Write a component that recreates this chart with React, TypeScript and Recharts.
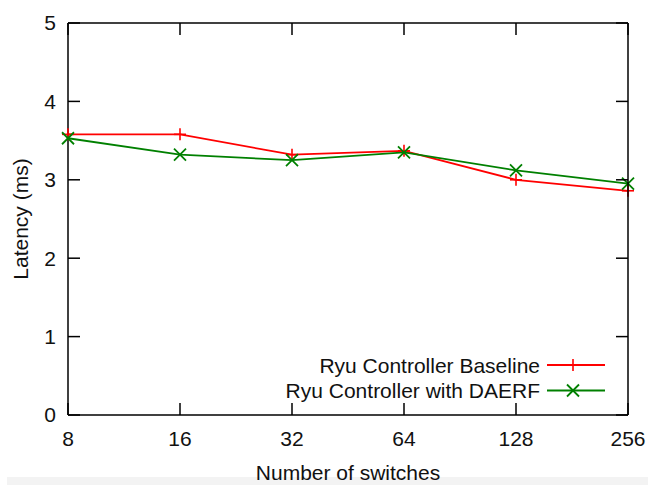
import React from 'react';
import { LineChart, Line, XAxis, YAxis, Legend } from 'recharts';

const switches = [8, 16, 32, 64, 128, 256];
const baseline = [3.58, 3.58, 3.32, 3.37, 3.0, 2.86];
const daerf = [3.53, 3.32, 3.25, 3.35, 3.12, 2.95];
const yTicks = [0, 1, 2, 3, 4, 5];

const seriesNames = ['Ryu Controller Baseline', 'Ryu Controller with DAERF'];
const RED = '#ff0000';
const GREEN = '#008000';
const FONT = '"Liberation Sans", Arial, sans-serif';
const TEXT = '#111';

const data = switches.map((n, i) => ({ n: String(n), baseline: baseline[i], daerf: daerf[i] }));

// layout
const W = 648;
const H = 485;
const MARGIN = { top: 23, right: 20, bottom: 0, left: 8 };
const Y_AXIS_W = 60;
const X_AXIS_H = 70;
const PLOT_TOP = MARGIN.top;
const PLOT_RIGHT = W - MARGIN.right;
const PLOT_BOTTOM = H - MARGIN.bottom - X_AXIS_H;
const TICK = 12;

const PlusDot = (props: any) => {
  const { cx, cy } = props;
  if (cx == null || cy == null) return null;
  const s = 6;
  return (
    <g>
      <line x1={cx - s} y1={cy} x2={cx + s} y2={cy} stroke={RED} strokeWidth={1.6} />
      <line x1={cx} y1={cy - s} x2={cx} y2={cy + s} stroke={RED} strokeWidth={1.6} />
    </g>
  );
};

const CrossDot = (props: any) => {
  const { cx, cy } = props;
  if (cx == null || cy == null) return null;
  const s = 6;
  return (
    <g>
      <line x1={cx - s} y1={cy - s} x2={cx + s} y2={cy + s} stroke={GREEN} strokeWidth={1.8} />
      <line x1={cx - s} y1={cy + s} x2={cx + s} y2={cy - s} stroke={GREEN} strokeWidth={1.8} />
    </g>
  );
};

const LegendContent = () => (
  <svg width={350} height={55} style={{ display: 'block' }}>
    <text x={270} y={15} textAnchor="end" dominantBaseline="central" fontSize={21} fontFamily={FONT} fill={TEXT}>
      {seriesNames[0]}
    </text>
    <line x1={277} y1={15} x2={335} y2={15} stroke={RED} strokeWidth={1.8} />
    <PlusDot cx={303} cy={15} />
    <text x={270} y={40.5} textAnchor="end" dominantBaseline="central" fontSize={21} fontFamily={FONT} fill={TEXT}>
      {seriesNames[1]}
    </text>
    <line x1={277} y1={40.5} x2={335} y2={40.5} stroke={GREEN} strokeWidth={1.8} />
    <CrossDot cx={303} cy={40.5} />
  </svg>
);

const YLabel = () => (
  <text
    x={20}
    y={219}
    transform="rotate(-90 20 219)"
    textAnchor="middle"
    dominantBaseline="central"
    fontSize={21}
    fontFamily={FONT}
    fill={TEXT}
  >
    Latency (ms)
  </text>
);

// bottom tick label + mirrored inward tick on the top edge (and the top frame line)
const XTick = (p: any) => {
  const { x, y, payload, index } = p;
  return (
    <g>
      <text x={x} y={y} dy="0.71em" textAnchor="middle" fontSize={21} fontFamily={FONT} fill={TEXT}>
        {payload.value}
      </text>
      <line x1={x} y1={PLOT_TOP} x2={x} y2={PLOT_TOP + TICK} stroke="#000" strokeWidth={1.5} />
      {index === 0 && (
        <line x1={x} y1={PLOT_TOP} x2={PLOT_RIGHT} y2={PLOT_TOP} stroke="#000" strokeWidth={1.5} />
      )}
    </g>
  );
};

// left tick label + mirrored inward tick on the right edge (and the right frame line)
const YTick = (p: any) => {
  const { x, y, payload, index } = p;
  return (
    <g>
      <text x={x} y={y} dy="0.355em" textAnchor="end" fontSize={21} fontFamily={FONT} fill={TEXT}>
        {payload.value}
      </text>
      <line x1={PLOT_RIGHT - TICK} y1={y} x2={PLOT_RIGHT} y2={y} stroke="#000" strokeWidth={1.5} />
      {index === 0 && (
        <line x1={PLOT_RIGHT} y1={PLOT_TOP} x2={PLOT_RIGHT} y2={PLOT_BOTTOM} stroke="#000" strokeWidth={1.5} />
      )}
    </g>
  );
};

export default function App() {
  const axisStroke = { stroke: '#000', strokeWidth: 1.5 };
  return (
    <div style={{ position: 'absolute', left: 0, top: 0, width: W, height: H, background: '#fff' }}>
      <div style={{ position: 'absolute', left: 7, top: 477, width: 641, height: 8, background: '#f3f3f3' }} />
      <LineChart width={W} height={H} data={data} margin={MARGIN} style={{ fontFamily: FONT }}>
        <XAxis
          dataKey="n"
          interval={0}
          height={X_AXIS_H}
          tickSize={-TICK}
          tickMargin={28}
          tick={<XTick />}
          axisLine={axisStroke}
          tickLine={axisStroke}
          label={{ value: 'Number of switches', position: 'insideBottom', offset: 5, fontSize: 21, fill: TEXT, fontFamily: FONT }}
        />
        <YAxis
          domain={[0, 5]}
          ticks={yTicks}
          interval={0}
          width={Y_AXIS_W}
          tickSize={-TICK}
          tickMargin={24}
          tick={<YTick />}
          axisLine={axisStroke}
          tickLine={axisStroke}
          label={{ content: () => <YLabel /> }}
        />
        <Legend
          layout="horizontal"
          verticalAlign="middle"
          align="center"
          content={<LegendContent />}
          wrapperStyle={{ position: 'absolute', left: 270, top: 350, width: 350, height: 55 }}
        />
        <Line
          dataKey="baseline"
          name={seriesNames[0]}
          stroke={RED}
          strokeWidth={1.8}
          dot={<PlusDot />}
          activeDot={false}
          isAnimationActive={false}
        />
        <Line
          dataKey="daerf"
          name={seriesNames[1]}
          stroke={GREEN}
          strokeWidth={1.8}
          dot={<CrossDot />}
          activeDot={false}
          isAnimationActive={false}
        />
      </LineChart>
    </div>
  );
}
